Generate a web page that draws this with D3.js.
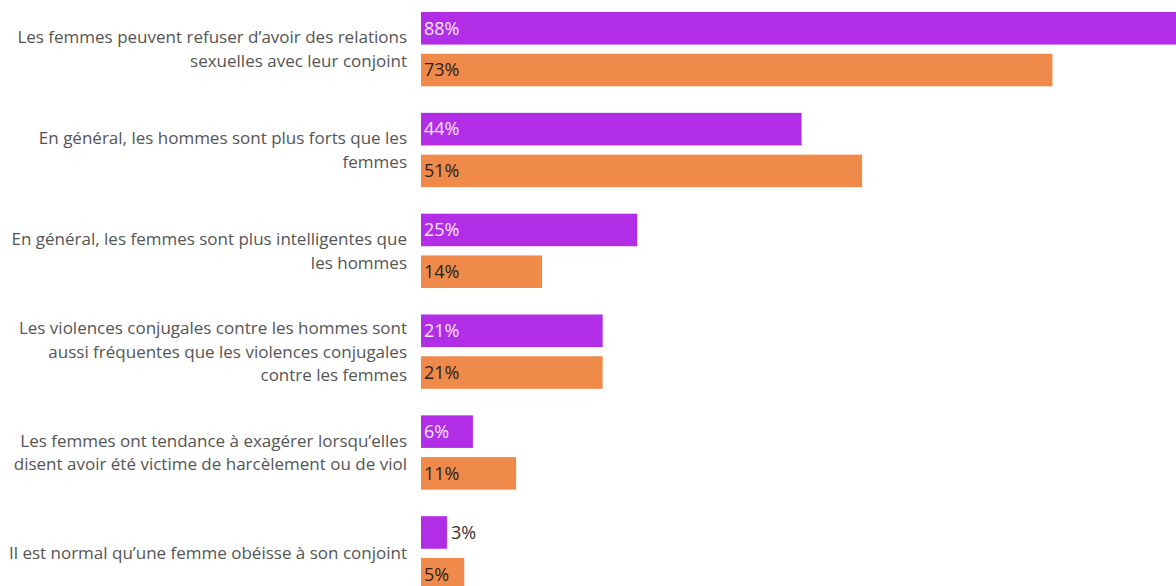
<!DOCTYPE html>
<html>
<head>
<meta charset="utf-8">
<script src="https://cdn.jsdelivr.net/npm/d3@7"></script>
<style>
  body { margin: 0; background: #fff; overflow: hidden; }
</style>
</head>
<body>
<div class="canvas"></div>
<script>
// data
let categories = [
    ["Les femmes peuvent refuser d’avoir des relations", "sexuelles avec leur conjoint"],
    ["En général, les hommes sont plus forts que les", "femmes"],
    ["En général, les femmes sont plus intelligentes que", "les hommes"],
    ["Les violences conjugales contre les hommes sont", "aussi fréquentes que les violences conjugales", "contre les femmes"],
    ["Les femmes ont tendance à exagérer lorsqu’elles", "disent avoir été victime de harcèlement ou de viol"],
    ["Il est normal qu’une femme obéisse à son conjoint"]
];
let seriesNames = ["s1", "s2"];
let values1 = [88, 44, 25, 21, 6, 3];
let values2 = [73, 51, 14, 21, 11, 5];

let W = 1176, H = 586;
let colors = { s1: '#b12ee6', s2: '#f08a4b' };
let labelColors = { s1: '#f6e6ff', s2: '#2b2118' };

let svg = d3.select(".canvas").append("svg").attr("width", W).attr("height", H)
    .style('font-family', "'Open Sans', sans-serif");

let idx = d3.range(categories.length);

let x = d3.scaleLinear().domain([0, 100]).range([421, 421 + 865]);

let y0 = d3.scaleBand().domain(idx).range([12, 590.5]).paddingInner(0.263).paddingOuter(0);
let y1 = d3.scaleBand().domain(seriesNames).range([0, y0.bandwidth()]).paddingInner(0.22);

let rows = idx.map(i => ({ i: i, lines: categories[i], s1: values1[i], s2: values2[i] }));

// category labels
rows.forEach(r => {
    let cy = y0(r.i) + y0.bandwidth() / 2;
    let n = r.lines.length;
    let lh = 23.5;
    r.lines.forEach((ln, k) => {
        svg.append('text')
            .text(ln)
            .attr('x', 407)
            .attr('y', cy + (k - (n - 1) / 2) * lh)
            .attr('dy', '0.35em')
            .attr('text-anchor', 'end')
            .attr('font-size', 17)
            .attr('fill', '#555');
    });
});

// bars
rows.forEach(r => {
    seriesNames.forEach(s => {
        let v = r[s];
        let by = y0(r.i) + y1(s);
        let bw = x(v) - x(0);
        svg.append('rect')
            .attr('x', x(0))
            .attr('y', by)
            .attr('width', bw)
            .attr('height', y1.bandwidth())
            .attr('fill', colors[s]);

        let inside = bw > 34;
        svg.append('text')
            .text(v + '%')
            .attr('x', inside ? x(0) + 3 : x(v) + 4)
            .attr('y', by + y1.bandwidth() / 2)
            .attr('dy', '0.35em')
            .attr('font-size', 18)
            .attr('fill', inside ? labelColors[s] : '#333');
    });
});
</script>
</body>
</html>
